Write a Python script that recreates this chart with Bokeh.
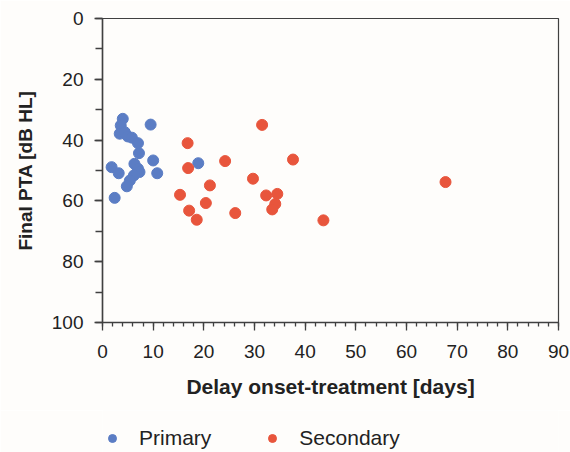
from bokeh.plotting import figure
from bokeh.models import Range1d, FixedTicker, Legend, LegendItem
from bokeh.layouts import column
from bokeh.embed import file_html
from bokeh.resources import INLINE

primary_x = [4.0, 3.6, 9.5, 3.4, 4.4, 5.0, 5.8, 7.0, 7.2, 1.8, 3.2, 6.3, 7.0, 7.3, 6.2, 5.4, 4.8, 10.0, 10.8, 2.4, 18.9]
primary_y = [33.0, 35.2, 34.9, 37.9, 37.4, 38.8, 39.2, 41.0, 44.3, 48.9, 50.9, 47.8, 49.4, 50.5, 51.6, 53.3, 55.2, 46.7, 50.9, 59.0, 47.6]

secondary_x = [31.5, 16.8, 24.2, 37.6, 16.9, 29.7, 21.2, 15.3, 32.3, 34.5, 20.4, 34.1, 33.5, 17.1, 26.2, 18.6, 67.7, 43.6]
secondary_y = [35.0, 41.0, 46.9, 46.4, 49.2, 52.7, 54.9, 58.0, 58.2, 57.7, 60.7, 61.0, 62.8, 63.2, 64.0, 66.2, 53.8, 66.4]

x_ticks = [0, 10, 20, 30, 40, 50, 60, 70, 80, 90]
y_ticks = [0, 20, 40, 60, 80, 100]
series_names = ["Primary", "Secondary"]

BLUE = "#5B7DC4"
RED = "#E8553C"
FONT = "Liberation Sans"
BG = "#FEFDFB"

p = figure(width=570, height=410, output_backend="svg", toolbar_location=None,
           x_range=Range1d(0, 90), y_range=Range1d(100, 0),
           min_border_left=102, min_border_right=12, min_border_top=18, min_border_bottom=88)
p.background_fill_color = BG
p.border_fill_color = BG
p.outline_line_color = "#404040"
p.outline_line_width = 1.2
p.grid.visible = False

p.scatter(primary_x, primary_y, size=11, color=BLUE, line_color=BLUE)
p.scatter(secondary_x, secondary_y, size=11, color=RED, line_color=RED)

xa = p.xaxis[0]
xa.ticker = FixedTicker(ticks=x_ticks, minor_ticks=[i for i in range(0, 91, 2)])
xa.axis_label = "Delay onset-treatment [days]"
ya = p.yaxis[0]
ya.ticker = FixedTicker(ticks=y_ticks, minor_ticks=[i for i in range(0, 101, 10)])
ya.axis_label = "Final PTA [dB HL]"

for ax in (xa, ya):
    ax.axis_line_color = "#404040"
    ax.axis_line_width = 1.5
    ax.major_tick_line_color = "#404040"
    ax.minor_tick_line_color = "#404040"
    ax.major_tick_line_width = 1.3
    ax.minor_tick_line_width = 1.3
    ax.major_tick_in = 0
    ax.minor_tick_in = 0
    ax.major_label_text_font = FONT
    ax.major_label_text_color = "#222222"
    ax.axis_label_text_font = FONT
    ax.axis_label_text_font_style = "bold"
    ax.axis_label_text_color = "#222222"

xa.major_tick_out = 8
xa.minor_tick_out = 4
xa.major_label_text_font_size = "19px"
xa.major_label_standoff = 14
xa.axis_label_text_font_size = "21px"
xa.axis_label_standoff = 14

ya.major_tick_out = 8
ya.minor_tick_out = 7
ya.major_label_text_font_size = "19px"
ya.major_label_standoff = 11
ya.axis_label_text_font_size = "19px"
ya.axis_label_standoff = 13

# legend strip (its glyph renderers use the series data but lie outside its own ranges)
lg = figure(width=570, height=42, output_backend="svg", toolbar_location=None,
            x_range=Range1d(0, 1), y_range=Range1d(0, 1),
            x_axis_type=None, y_axis_type=None,
            min_border_left=0, min_border_right=0, min_border_top=0, min_border_bottom=0)
lg.background_fill_color = BG
lg.border_fill_color = BG
lg.outline_line_color = None
lg.grid.visible = False
e1 = lg.scatter(primary_x, primary_y, size=11, color=BLUE, line_color=BLUE)
e2 = lg.scatter(secondary_x, secondary_y, size=11, color=RED, line_color=RED)

legend = Legend(items=[LegendItem(label=series_names[0], renderers=[e1]),
                       LegendItem(label=series_names[1], renderers=[e2])],
                orientation="horizontal", location=(0, 2))
legend.border_line_color = None
legend.background_fill_alpha = 0
legend.padding = 0
legend.margin = 0
legend.spacing = 51
legend.glyph_width = 20
legend.glyph_height = 20
legend.label_standoff = 17
legend.label_text_font = FONT
legend.label_text_font_size = "21px"
legend.label_text_color = "#222222"
lg.add_layout(legend, "center")

layout = column(p, lg, spacing=0)
open("out.html", "w").write(file_html(layout, INLINE))
